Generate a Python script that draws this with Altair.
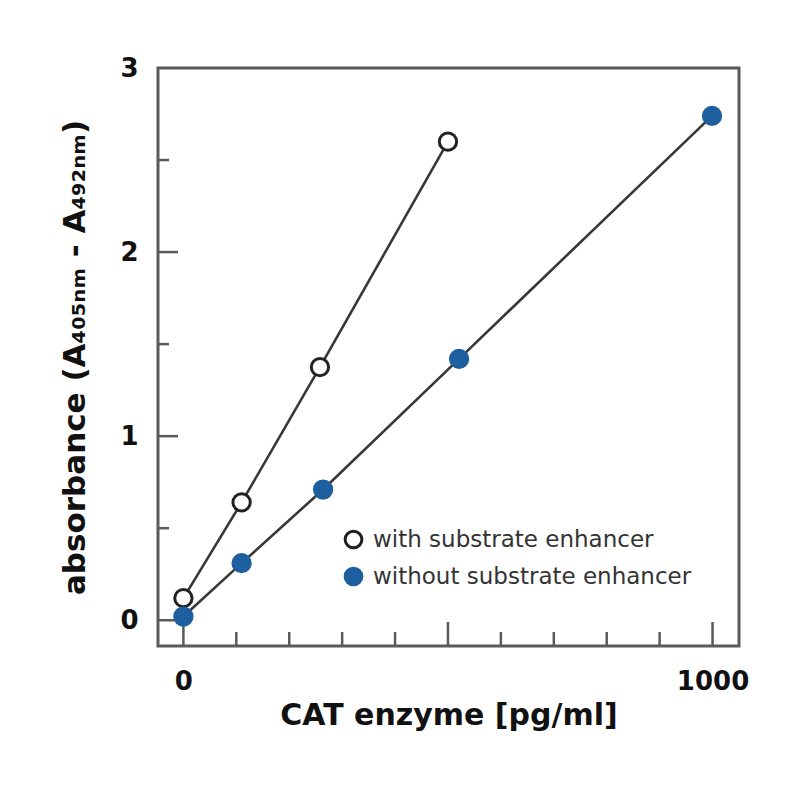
import altair as alt
import pandas as pd

# ---- data ----
series = ["with substrate enhancer", "without substrate enhancer"]
x_with = [0, 110, 258, 500]
y_with = [0.12, 0.64, 1.375, 2.60]
x_without = [0, 110, 264, 521, 999]
y_without = [0.02, 0.31, 0.71, 1.42, 2.74]

x_labels = [0, 1000]
y_labels = [0, 1, 2, 3]
x_major_ticks = [0, 500, 1000]
x_minor_ticks = [100, 200, 300, 400, 600, 700, 800, 900]
y_major_ticks = [0, 1, 2]
y_minor_ticks = [0.5, 1.5, 2.5]

x_domain = [-48, 1050]
y_domain = [-0.14, 3.0]

# ---- styling ----
W, H = 581, 578
BLUE = "#1d5f9f"
LINE = "#383838"
FRAME = "#5a5a5a"
FONT = "DejaVu Sans"

rows = []
for xv, yv in zip(x_with, y_with):
    rows.append({"x": xv, "y": yv, "series": series[0]})
for xv, yv in zip(x_without, y_without):
    rows.append({"x": xv, "y": yv, "series": series[1]})
df = pd.DataFrame(rows)

x_axis = alt.Axis(values=x_labels, ticks=False, domain=False, grid=False, format="d",
                  labelFont=FONT, labelFontSize=26, labelFontWeight="bold",
                  labelColor="#111", labelPadding=22,
                  title="CAT enzyme [pg/ml]", titleFont=FONT, titleFontSize=30,
                  titleFontWeight="bold", titleColor="#111", titlePadding=6)
y_axis = alt.Axis(values=y_labels, ticks=False, domain=False, grid=False, format="d",
                  labelFont=FONT, labelFontSize=26, labelFontWeight="bold",
                  labelColor="#111", labelPadding=20,
                  title="absorbance (A₄₀₅ₙₘ - A₄₉₂ₙₘ)", titleFont=FONT,
                  titleFontSize=31, titleFontWeight="bold", titleColor="#111",
                  titlePadding=28)

x_enc = alt.X("x:Q", scale=alt.Scale(domain=x_domain, nice=False, zero=False), axis=x_axis)
y_enc = alt.Y("y:Q", scale=alt.Scale(domain=y_domain, nice=False, zero=False), axis=y_axis)

lines = alt.Chart(df).mark_line(color=LINE, strokeWidth=2.6).encode(
    x=x_enc, y=y_enc, detail="series:N"
)

points = alt.Chart(df).mark_point(shape="circle", size=300, strokeWidth=3, opacity=1,
                                  filled=False).encode(
    x=x_enc, y=y_enc,
    fill=alt.Fill("series:N", scale=alt.Scale(domain=series, range=["white", BLUE]),
                  legend=alt.Legend(title=None)),
    stroke=alt.Stroke("series:N", scale=alt.Scale(domain=series, range=["#222222", BLUE]),
                      legend=alt.Legend(title=None)),
    order=alt.Order("series:N", sort="ascending"),
)

xmaj = alt.Chart(pd.DataFrame({"x": x_major_ticks})).mark_rule(color=FRAME, strokeWidth=2.5).encode(
    x=x_enc, y=alt.value(H), y2=alt.value(H - 24))
xmin = alt.Chart(pd.DataFrame({"x": x_minor_ticks})).mark_rule(color=FRAME, strokeWidth=2.5).encode(
    x=x_enc, y=alt.value(H), y2=alt.value(H - 14))
ymaj = alt.Chart(pd.DataFrame({"y": y_major_ticks})).mark_rule(color=FRAME, strokeWidth=2.5).encode(
    y=y_enc, x=alt.value(0), x2=alt.value(20))
ymin = alt.Chart(pd.DataFrame({"y": y_minor_ticks})).mark_rule(color=FRAME, strokeWidth=2.5).encode(
    y=y_enc, x=alt.value(0), x2=alt.value(11))

chart = alt.layer(xmaj, xmin, ymaj, ymin, lines, points).properties(
    width=W, height=H,
    autosize=alt.AutoSizeParams(type="none"),
    padding={"left": 150, "top": 60, "right": 40, "bottom": 90},
    background="white",
).configure_view(
    stroke=FRAME, strokeWidth=3
).configure_legend(
    orient="none", legendX=184, legendY=460,
    labelFont=FONT, labelFontSize=23, labelColor="#333", labelLimit=0,
    symbolSize=280, symbolStrokeWidth=3, rowPadding=8, labelOffset=8,
    symbolType="circle",
)

chart.save("out.html", embed_options={"renderer": "svg", "actions": False})
